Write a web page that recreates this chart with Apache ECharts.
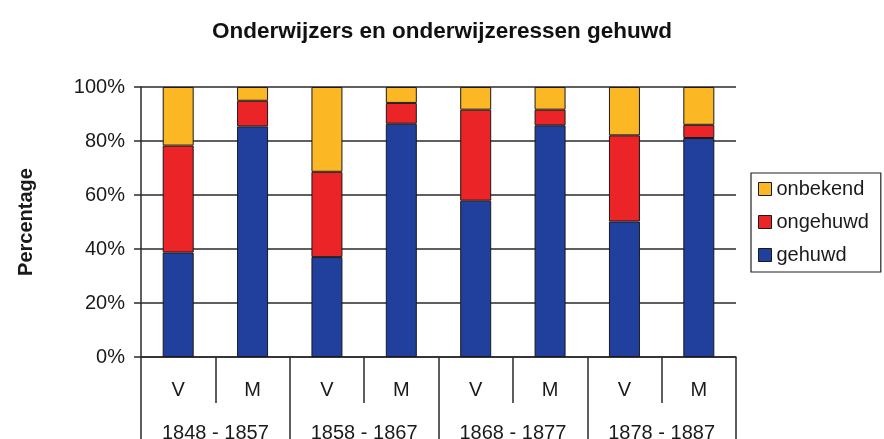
<!DOCTYPE html>
<html><head><meta charset="utf-8">
<script src="https://cdn.jsdelivr.net/npm/echarts@6/dist/echarts.min.js"></script>
<style>html,body{margin:0;padding:0;background:#fff}#c{width:884px;height:439px}</style>
</head><body><div id="c"></div>
<script>
const categories = ['V', 'M', 'V', 'M', 'V', 'M', 'V', 'M'];
const periods = ['1848 - 1857', '1858 - 1867', '1868 - 1877', '1878 - 1887'];
const yTicks = [0, 20, 40, 60, 80, 100];
const gehuwd   = [38.7, 85.4, 37.0, 86.4, 57.9, 85.8, 50.2, 81.1];
const ongehuwd = [39.6,  9.5, 31.6,  7.7, 33.7,  5.8, 31.9,  4.9];
const onbekend = [21.7,  5.1, 31.4,  5.9,  8.4,  8.4, 17.9, 14.0];

const FONT = '"Liberation Sans", Arial, Helvetica, sans-serif';
const LINE = '#2a2a2a';
const TXT = '#1a1a1a';
const chart = echarts.init(document.getElementById('c'), null, {renderer: 'canvas'});
function bar(name, data, color) {
  return {
    name: name, type: 'bar', stack: 'total', data: data, barWidth: 31,
    xAxisIndex: 0, yAxisIndex: 0,
    itemStyle: {color: color, borderColor: '#1a1a1a', borderWidth: 1},
    emphasis: {disabled: true}
  };
}
chart.setOption({
  animation: false,
  backgroundColor: '#fff',
  textStyle: {fontFamily: FONT},
  title: {
    text: 'Onderwijzers en onderwijzeressen gehuwd',
    left: 437, top: 15, textAlign: 'center',
    textStyle: {fontFamily: FONT, fontSize: 22.5, fontWeight: 'bold', color: '#111'}
  },
  legend: {
    orient: 'vertical', left: 751, top: 173,
    padding: [6, 12, 7, 7],
    borderColor: '#222', borderWidth: 1.2,
    itemWidth: 13, itemHeight: 13, itemGap: 13,
    icon: 'rect',
    itemStyle: {borderColor: '#1a1a1a', borderWidth: 1},
    textStyle: {fontFamily: FONT, fontSize: 20, color: TXT},
    data: ['onbekend', 'ongehuwd', 'gehuwd']
  },
  grid: {left: 141, right: 148, top: 87, bottom: 82, containLabel: false, outerBoundsMode: 'none'},
  xAxis: [
    {
      type: 'category', data: categories, position: 'bottom',
      axisLine: {show: true, lineStyle: {color: LINE, width: 1.5}},
      axisTick: {show: true, interval: 0, length: 46, lineStyle: {color: LINE, width: 1.5}},
      axisLabel: {interval: 0, margin: 23, fontSize: 20, color: TXT, fontFamily: FONT},
      splitLine: {show: false}
    },
    {
      type: 'category', data: periods, position: 'bottom', offset: 0,
      axisLine: {show: false},
      axisTick: {show: true, interval: 0, length: 90, lineStyle: {color: LINE, width: 1.5}},
      axisLabel: {interval: 0, margin: 66, fontSize: 20, color: TXT, fontFamily: FONT},
      splitLine: {show: false}
    }
  ],
  yAxis: {
    type: 'value', min: yTicks[0], max: yTicks[yTicks.length - 1], interval: 20,
    name: 'Percentage', nameLocation: 'middle', nameGap: 105, nameRotate: 90,
    nameTextStyle: {fontFamily: FONT, fontSize: 20, fontWeight: 'bold', color: TXT},
    axisLine: {show: true, lineStyle: {color: LINE, width: 1.5}},
    axisTick: {show: true, length: 7, lineStyle: {color: LINE, width: 1.5}},
    axisLabel: {formatter: '{value}%', margin: 16, fontSize: 20, color: TXT, fontFamily: FONT},
    splitLine: {show: true, lineStyle: {color: LINE, width: 1.5}}
  },
  series: [
    bar('gehuwd', gehuwd, '#213F9C'),
    bar('ongehuwd', ongehuwd, '#EA2427'),
    bar('onbekend', onbekend, '#FBB724')
  ]
});
</script></body></html>
